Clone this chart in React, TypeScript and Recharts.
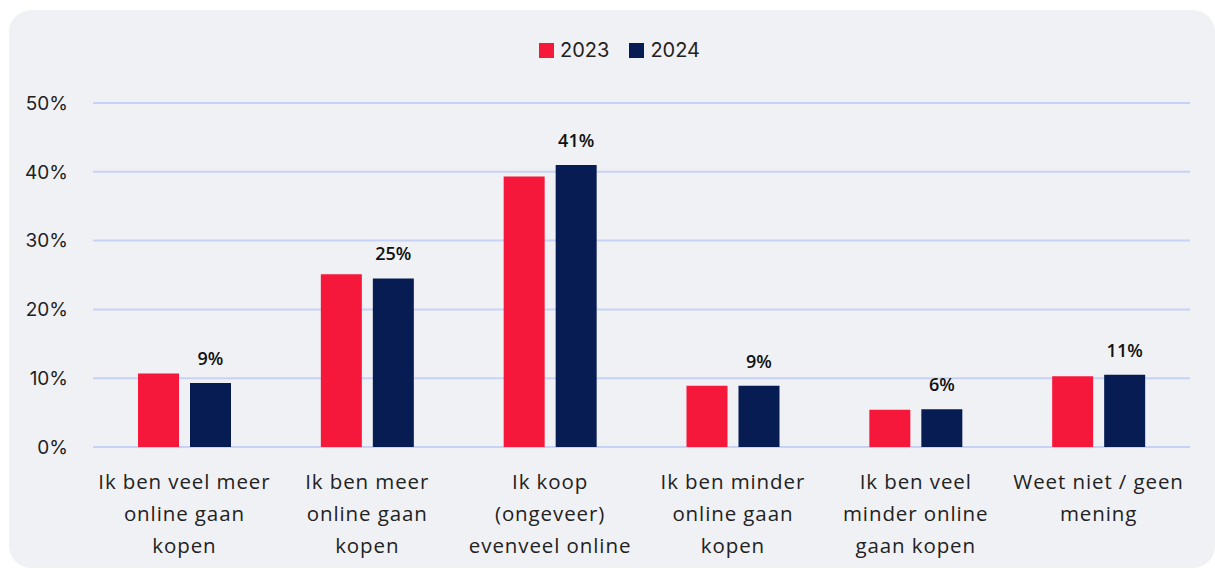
import React from "react";
import { BarChart, Bar, XAxis, YAxis, CartesianGrid, Legend, LabelList } from "recharts";

const categories = [
  "Ik ben veel meer\nonline gaan\nkopen",
  "Ik ben meer\nonline gaan\nkopen",
  "Ik koop\n(ongeveer)\nevenveel online",
  "Ik ben minder\nonline gaan\nkopen",
  "Ik ben veel\nminder online\ngaan kopen",
  "Weet niet / geen\nmening",
];
const values2023 = [10.7, 25.1, 39.3, 8.9, 5.4, 10.3];
const values2024 = [9.3, 24.5, 41.0, 8.9, 5.5, 10.5];
const labels2024 = ["9%", "25%", "41%", "9%", "6%", "11%"];
const yTicks = [0, 10, 20, 30, 40, 50];

const RED = "#f6183b";
const NAVY = "#061c52";
const TEXT = "#222222";

const data = categories.map((c, i) => ({
  cat: c,
  v2023: values2023[i],
  v2024: values2024[i],
  lbl: labels2024[i],
}));

const CatTick = (props: any) => {
  const { x, y, payload } = props;
  const lines = String(payload.value).split("\n");
  return (
    <g>
      {lines.map((ln: string, i: number) => (
        <text
          key={i}
          x={x}
          y={y + 42 + i * 32}
          textAnchor="middle"
          fill={TEXT}
          fontFamily="'Open Sans', sans-serif"
          fontSize={20.5}
          letterSpacing={0.9}
        >
          {ln}
        </text>
      ))}
    </g>
  );
};

const TopLabel = (props: any) => {
  const { x, y, width, index } = props;
  return (
    <text
      x={x + width / 2}
      y={y - 18}
      textAnchor="middle"
      fill="#111"
      fontFamily="'Open Sans', sans-serif"
      fontWeight={600}
      fontSize={18}
    >
      {labels2024[index]}
    </text>
  );
};

const LegendContent = () => (
  <div style={{ display: "flex", justifyContent: "center", alignItems: "center", fontFamily: "Inter, sans-serif", fontSize: 20, color: TEXT, paddingLeft: 24 }}>
    {[
      { name: "2023", color: RED },
      { name: "2024", color: NAVY },
    ].map((it, i) => (
      <div key={it.name} style={{ display: "flex", alignItems: "center", marginLeft: i ? 20 : 0 }}>
        <span style={{ display: "inline-block", width: 15, height: 15, background: it.color, marginRight: 6 }} />
        <span>{it.name}</span>
      </div>
    ))}
  </div>
);

export default function App() {
  return (
    <div style={{ position: "absolute", left: 0, top: 0, width: 1215, height: 569, overflow: "hidden" }}>
      <div
        style={{
          position: "absolute",
          left: 9,
          top: 10,
          width: 1206,
          height: 558,
          borderRadius: 22,
          background: "#f0f1f5",
        }}
      />
      <div style={{ position: "absolute", left: 0, top: 0 }}>
        <BarChart
          width={1215}
          height={569}
          data={data}
          margin={{ top: 103, right: 25, bottom: 0, left: 0 }}
          barSize={41}
          barGap={11}
        >
          <CartesianGrid vertical={false} stroke="#c6d3f6" strokeWidth={2} />
          <XAxis
            dataKey="cat"
            axisLine={false}
            tickLine={false}
            tickSize={0}
            tickMargin={0}
            height={122}
            interval={0}
            tick={<CatTick />}
          />
          <YAxis
            domain={[0, 50]}
            ticks={yTicks}
            axisLine={false}
            tickLine={false}
            tickSize={0}
            tickMargin={25}
            width={93}
            tickFormatter={(v: number) => `${v}%`}
            tick={{ fill: TEXT, fontFamily: "Inter, sans-serif", fontSize: 19 }}
          />
          <Legend
            verticalAlign="middle"
            align="center"
            layout="horizontal"
            wrapperStyle={{ top: 38, left: 0, width: 1215 }}
            content={<LegendContent />}
          />
          <Bar dataKey="v2023" name="2023" fill={RED} isAnimationActive={false} />
          <Bar dataKey="v2024" name="2024" fill={NAVY} isAnimationActive={false}>
            <LabelList dataKey="lbl" content={<TopLabel />} />
          </Bar>
        </BarChart>
      </div>
    </div>
  );
}
